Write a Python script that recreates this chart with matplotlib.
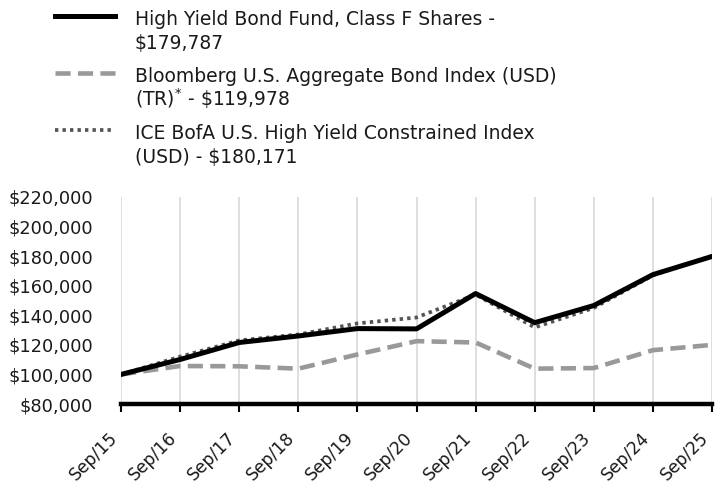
import matplotlib.pyplot as plt
from matplotlib.lines import Line2D
from matplotlib.ticker import FuncFormatter

# Datos
fechas = ["Sep/15", "Sep/16", "Sep/17", "Sep/18", "Sep/19", "Sep/20",
          "Sep/21", "Sep/22", "Sep/23", "Sep/24", "Sep/25"]
fondo = [100000, 110100, 121600, 126000, 131000, 130800,
         154700, 135000, 146600, 167500, 179787]
bloomberg = [100000, 105700, 105500, 103900, 113500, 122500,
             121600, 103900, 104300, 116400, 119978]
ice = [100000, 112000, 123000, 127000, 134500, 138500,
       154000, 131800, 145000, 167000, 180171]

etiquetas = ["High Yield Bond Fund, Class F Shares -\n\\$179,787",
             "Bloomberg U.S. Aggregate Bond Index (USD)\n(TR)$^{*}$ - \\$119,978",
             "ICE BofA U.S. High Yield Constrained Index\n(USD) - \\$180,171"]

plt.rcParams['font.family'] = ['DejaVu Sans']
plt.rcParams['mathtext.fontset'] = 'dejavusans'

W, H = 715, 487
fig = plt.figure(figsize=(W / 100, H / 100), dpi=100)
ax = fig.add_axes([121 / W, 1 - 404 / H, (712 - 121) / W, (404 - 197) / H])

# Estilos de cada serie
est_fondo = dict(color="black", lw=3.6)
est_bloom = dict(color="#999999", lw=3.3, dashes=(3.3, 1.6))
est_ice = dict(color="#555555", lw=2.7, linestyle=(0, (0.9, 1.1)))

x = list(range(len(fechas)))
ax.plot(x, bloomberg, **est_bloom)
ax.plot(x, ice, **est_ice)
ax.plot(x, fondo, **est_fondo)

ax.set_xlim(0, len(fechas) - 1)
ax.set_ylim(80000, 220000)
ax.set_yticks(range(80000, 220001, 20000))
ax.yaxis.set_major_formatter(FuncFormatter(lambda v, p: "${:,.0f}".format(v)))
ax.set_xticks(x)
ax.set_xticklabels(fechas, rotation=45, ha="right", va="top")

ax.grid(axis="x", color="#d9d9d9", lw=1.2)
ax.set_axisbelow(True)
for s in ["top", "right", "left"]:
    ax.spines[s].set_visible(False)
ax.spines["bottom"].set_linewidth(3.2)
ax.spines["bottom"].set_color("black")
ax.tick_params(axis="y", length=0, labelsize=12.8, pad=20, labelcolor="#1a1a1a")
ax.tick_params(axis="x", length=6, width=1.5, color="black", labelsize=12.3,
               pad=12, labelcolor="#1a1a1a")

# Leyenda dibujada a mano en la parte superior
for i, (est, txt) in enumerate(zip([est_fondo, est_bloom, est_ice], etiquetas)):
    base = 25 + 57 * i
    yy = 1 - (base - 9) / H
    fig.add_artist(Line2D([55 / W, 115 / W], [yy, yy], transform=fig.transFigure, **est))
    for j, linea in enumerate(txt.split("\n")):
        fig.text(135 / W, 1 - (base + 24 * j) / H, linea, fontsize=13.5,
                 va="baseline", ha="left", color="#1a1a1a")

plt.savefig("out.png", dpi=100)
